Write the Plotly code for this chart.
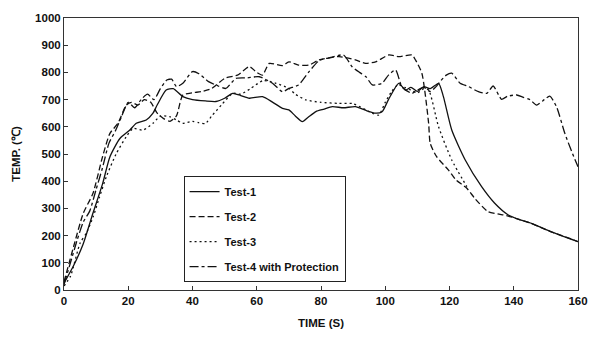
import plotly.graph_objects as go

# ---- data ----
t1 = [0, 3, 6, 9, 12, 14.3, 17.4, 20.5, 22.5, 25.6, 27.7, 29, 31.8, 34, 37, 40, 44, 47.3, 50, 52.5, 55, 57.7,
      61.8, 65, 68, 70, 72, 74.2, 76, 78.4, 81, 83.5, 87, 90.7, 94, 97, 99, 101, 104.2, 106.3, 108, 110, 112,
      114, 116.6, 118.1, 120.7, 124.9, 130, 134, 138.3, 142, 145.5, 151.7, 160]
y1 = [25, 90, 170, 282, 390, 490, 557, 588, 613, 625, 650, 680, 735, 740, 711, 700, 695, 693, 705, 723, 715, 705,
      711, 690, 668, 662, 640, 619, 635, 656, 665, 674, 670, 674, 660, 650, 655, 700, 760, 735, 745, 730, 748,
      740, 760, 711, 588, 478, 380, 320, 276, 258, 245, 214, 178]

t2 = [0, 3, 6, 9, 12, 14.3, 16.8, 19.4, 21, 23, 25, 27, 29, 31, 33, 35, 37, 40, 43, 46, 50, 54, 57.7, 60, 61.8,
      63.9, 68, 70, 73, 76.3, 79.4, 85.6, 90.7, 93.9, 97, 101.1, 104.2, 108.3, 109.4, 111.4, 113.5, 114, 116,
      119.7, 122, 125.4, 128, 132, 135, 138.3, 142, 145.5, 148, 151.7, 155, 160]
y2 = [30, 160, 282, 355, 490, 576, 613, 680, 690, 680, 700, 690, 650, 630, 620, 640, 717, 725, 730, 741, 778, 790,
      821, 800, 790, 833, 825, 839, 827, 827, 846, 858, 846, 833, 839, 864, 858, 864, 846, 797, 613, 539, 490,
      441, 405, 374, 335, 288, 280, 272, 258, 245, 232, 214, 200, 178]

t3 = [0, 2, 5, 7, 9.1, 11, 13.2, 16.3, 19.4, 21.5, 24.6, 27.7, 30, 32.9, 35, 37, 40, 42, 44, 46, 49, 52.5, 55, 58,
      62, 66, 70, 72, 75.3, 80, 85.6, 90, 95.9, 98, 100, 102, 104, 106, 108, 110, 112, 113.5, 116.6, 120.7, 125.4]
y3 = [15, 50, 172, 210, 270, 340, 417, 502, 564, 594, 588, 613, 640, 637, 625, 613, 620, 615, 612, 640, 680, 723,
      720, 740, 770, 760, 741, 720, 699, 690, 686, 685, 650, 643, 690, 730, 755, 745, 735, 725, 740, 735, 600,
      478, 380]

t4 = [0, 2, 4, 6, 8, 10, 12, 14, 16, 18, 20, 22, 24, 26, 28, 30, 32, 33.5, 35, 37, 40, 42, 45, 48, 50.4, 53.5, 57,
      60.8, 64.9, 68, 70, 73, 76.3, 79.4, 83, 87, 89.7, 92, 94, 96, 99, 101, 103.2, 105.2, 108.3, 110, 112, 114,
      116, 117, 119, 120.7, 123.3, 125.9, 129, 131.6, 133.6, 136.2, 138, 140.9, 143, 145, 147.1, 149, 151.2,
      153.3, 155.9, 158, 160]
y4 = [20, 100, 180, 250, 290, 370, 450, 540, 585, 640, 690, 670, 700, 720, 700, 740, 772, 775, 748, 760, 803, 795,
      766, 750, 741, 778, 780, 784, 760, 729, 741, 754, 803, 843, 855, 864, 821, 800, 784, 754, 760, 790, 809,
      747, 723, 735, 745, 730, 750, 765, 790, 797, 760, 748, 729, 723, 750, 701, 712, 717, 708, 700, 680, 695,
      713, 674, 576, 510, 453]

names = ["Test-1", "Test-2", "Test-3", "Test-4 with Protection"]
x_ticks = [0, 20, 40, 60, 80, 100, 120, 140, 160]
y_ticks = [0, 100, 200, 300, 400, 500, 600, 700, 800, 900, 1000]

series = [(t1, y1, "solid"), (t2, y2, "6px,3px"), (t3, y3, "2px,3px"), (t4, y4, "9px,3px,3px,3px")]

fig = go.Figure()
for (tx, ty, dash), name in zip(series, names):
    fig.add_trace(go.Scatter(
        x=tx, y=ty, mode="lines", name=name, legendgroup=name,
        line=dict(color="#111111", width=1.3, dash=dash, shape="spline", smoothing=0.6),
    ))

font_family = "Liberation Sans, Arial, sans-serif"
fig.update_layout(
    width=600, height=344,
    margin=dict(l=64, r=20, t=18, b=54),
    paper_bgcolor="white", plot_bgcolor="white",
    font=dict(family=font_family, size=11, color="#111111", weight="bold"),
    showlegend=True,
    legend=dict(
        x=0.2326, y=0.419, xanchor="left", yanchor="top",
        bgcolor="white", bordercolor="#222222", borderwidth=1,
        font=dict(size=11, family=font_family, color="#111111", weight="bold"),
        tracegroupgap=6,
    ),
    xaxis=dict(
        range=[0, 160], tickvals=x_ticks, ticktext=[str(v) for v in x_ticks],
        ticks="inside", ticklen=4, tickcolor="#333333",
        showline=True, linecolor="#333333", linewidth=1, mirror=True,
        showgrid=False, zeroline=False,
        title=dict(text="TIME (S)", standoff=13, font=dict(size=11.5, weight="bold")),
        tickfont=dict(size=11.5, weight="bold"),
    ),
    yaxis=dict(
        range=[0, 1000], tickvals=y_ticks, ticktext=[str(v) for v in y_ticks],
        ticks="inside", ticklen=4, tickcolor="#333333",
        showline=True, linecolor="#333333", linewidth=1, mirror=True,
        showgrid=False, zeroline=False,
        title=dict(text="TEMP. (℃)", standoff=12, font=dict(size=11.5, weight="bold")),
        tickfont=dict(size=11.5, weight="bold"),
    ),
)

fig.write_html("out.html")
